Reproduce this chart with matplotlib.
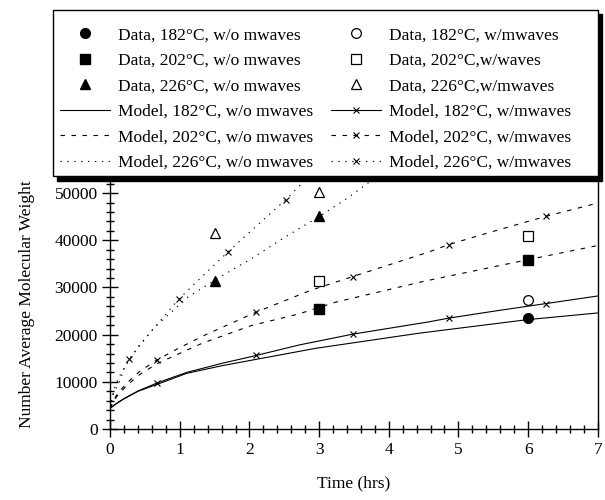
import numpy as np
import matplotlib.pyplot as plt
from matplotlib.ticker import MultipleLocator
from matplotlib.patches import Rectangle

plt.rcParams['font.family'] = ['Liberation Serif', 'DejaVu Serif']

# ---- measured data (time in hrs, Mn) ----
t_data_182 = [6]
m182_wo = [23600]
m182_w = [27400]
t_data_202 = [3, 6]
m202_wo = [25400, 35900]
m202_w = [31300, 41000]
t_data_226 = [1.5, 3]
m226_wo = [31400, 45100]
m226_w = [41600, 50200]

# ---- model curves ----
t_mod182_wo = [0, 0.1, 0.2, 0.4, 0.7, 1.1, 1.6, 2.0, 2.95, 4.43, 6.0, 7.0]
mod182_wo = [4400, 5500, 6400, 8000, 9600, 11800, 13400, 14500, 17100, 20300, 23200, 24600]

t_mod182_w = [0, 0.1, 0.2, 0.4, 0.68, 1.1, 1.6, 2.1, 2.71, 3.48, 4.57, 4.86, 5.52, 6.26, 7.0]
mod182_w = [4400, 5500, 6450, 8050, 9800, 12000, 13900, 15600, 17800, 20100, 22700, 23500, 25000, 26600, 28200]
x182 = [4, 7, 9, 11, 13]

t_mod202_wo = [0, 0.05, 0.12, 0.26, 0.43, 0.68, 0.98, 1.31, 2.02, 2.71, 3.24, 4.5, 6.0, 7.0]
mod202_wo = [4400, 5900, 7400, 9500, 11600, 13900, 15900, 18100, 21900, 24400, 26900, 31300, 35900, 38900]

t_mod202_w = [0, 0.05, 0.12, 0.26, 0.43, 0.68, 0.98, 1.36, 2.1, 2.88, 3.48, 4.57, 4.86, 5.5, 6.26, 7.0]
mod202_w = [4400, 6100, 7800, 10000, 12300, 14700, 17100, 19900, 24800, 29400, 32300, 37500, 39100, 41900, 45100, 47900]
x202 = [5, 8, 10, 12, 14]

t_mod226_wo = [0, 0.05, 0.14, 0.21, 0.4, 0.64, 1.12, 1.54, 2.05, 2.48, 3.02, 3.43, 3.8]
mod226_wo = [4400, 7600, 10200, 13100, 17400, 21600, 28000, 31900, 36300, 40400, 45200, 49200, 53200]

t_mod226_w = [0, 0.05, 0.12, 0.27, 0.55, 0.99, 1.36, 1.69, 2.0, 2.52, 2.85]
mod226_w = [4400, 8200, 10800, 14800, 20000, 27600, 32900, 37500, 41700, 48600, 53500]
x226 = [3, 5, 7, 9]

fig = plt.figure(figsize=(6.05, 5.0), dpi=100)
ax = fig.add_axes([0.182, 0.142, 0.806, 0.5])

lw = 0.8
dash = (0, (4, 5.9))
dot = (0, (1.2, 5))
ms = 7

h = []
h += ax.plot(t_data_182, m182_wo, 'o', color='k', ms=ms, ls='none',
             label='Data, 182\u00b0C, w/o mwaves')
h += ax.plot(t_data_202, m202_wo, 's', color='k', ms=ms - 0.5, ls='none',
             label='Data, 202\u00b0C, w/o mwaves')
h += ax.plot(t_data_226, m226_wo, '^', color='k', ms=ms, ls='none',
             label='Data, 226\u00b0C, w/o mwaves')
h += ax.plot(t_mod182_wo, mod182_wo, '-', color='k', lw=lw,
             label='Model, 182\u00b0C, w/o mwaves')
h += ax.plot(t_mod202_wo, mod202_wo, ls=dash, color='k', lw=lw,
             label='Model, 202\u00b0C, w/o mwaves')
h += ax.plot(t_mod226_wo, mod226_wo, ls=dot, color='k', lw=lw,
             label='Model, 226\u00b0C, w/o mwaves')

h += ax.plot(t_data_182, m182_w, 'o', mfc='white', mec='k', mew=0.9, ms=ms, ls='none',
             label='Data, 182\u00b0C, w/mwaves')
h += ax.plot(t_data_202, m202_w, 's', mfc='white', mec='k', mew=0.9, ms=ms - 0.5, ls='none',
             label='Data, 202\u00b0C,w/waves')
h += ax.plot(t_data_226, m226_w, '^', mfc='white', mec='k', mew=0.9, ms=ms, ls='none',
             label='Data, 226\u00b0C,w/mwaves')
h += ax.plot(t_mod182_w, mod182_w, '-', color='k', lw=lw, marker='x', ms=5, mew=0.8,
             markevery=x182, label='Model, 182\u00b0C, w/mwaves')
h += ax.plot(t_mod202_w, mod202_w, ls=dash, color='k', lw=lw, marker='x', ms=5, mew=0.8,
             markevery=x202, label='Model, 202\u00b0C, w/mwaves')
h += ax.plot(t_mod226_w, mod226_w, ls=dot, color='k', lw=lw, marker='x', ms=5, mew=0.8,
             markevery=x226, label='Model, 226\u00b0C, w/mwaves')

ax.set_xlim(0, 7)
ax.set_ylim(0, 53000)
ax.xaxis.set_major_locator(MultipleLocator(1))
ax.xaxis.set_minor_locator(MultipleLocator(0.2))
ax.yaxis.set_major_locator(MultipleLocator(10000))
ax.yaxis.set_minor_locator(MultipleLocator(2000))
ax.tick_params(which='major', direction='inout', length=11, width=1.0, labelsize=12.5)
ax.tick_params(which='minor', direction='inout', length=6, width=1.0)
for s in ax.spines.values():
    s.set_linewidth(1.0)

ax.set_xlabel('Time (hrs)', fontsize=12.5, labelpad=13)
ax.set_ylabel('Number Average Molecular Weight', fontsize=12.5, labelpad=14)

# legend box with a solid drop shadow (figure pixels: x 53-598, y 10-176)
W, H = 605.0, 500.0
fig.add_artist(Rectangle((57 / W, 1 - 181 / H), 545 / W, 167 / H,
                         transform=fig.transFigure, facecolor='k',
                         edgecolor='k', zorder=4))
fig.add_artist(Rectangle((53 / W, 1 - 176 / H), 545 / W, 166 / H,
                         transform=fig.transFigure, facecolor='white',
                         edgecolor='k', lw=1.0, zorder=4.5))

leg = fig.legend(h, [l.get_label() for l in h], ncol=2, loc='upper left',
                 bbox_to_anchor=(60 / W, 1 - 27 / H), bbox_transform=fig.transFigure,
                 fontsize=12.5, frameon=False,
                 handlelength=2.9, handletextpad=0.45, columnspacing=1.0,
                 labelspacing=0.54, borderpad=0, borderaxespad=0)
leg.set_zorder(5)

fig.savefig('out.png', dpi=100)
